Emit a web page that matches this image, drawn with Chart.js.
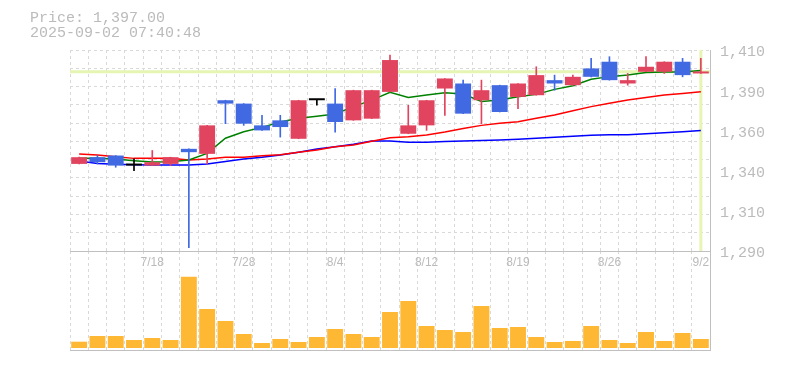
<!DOCTYPE html>
<html lang="ja">
<head>
<meta charset="UTF-8">
<title>株価チャート</title>
<script src="https://cdn.jsdelivr.net/npm/chart.js"></script>
<style>
  body { margin: 0; background: #fff; }
  #wrap { position: relative; width: 785px; height: 370px; overflow: hidden; }
  #info { position: absolute; left: 30px; top: 11px; font: 15px/15px 'Liberation Mono', monospace; color: #bbb; white-space: pre; z-index: 3; }
  #priceChart { position: absolute; left: 0; top: 0; z-index: 2; }
  #volChart { position: absolute; left: 0; top: 245px; z-index: 1; }
</style>
</head>
<body>
<div id="wrap">
  <div id="info">Price: 1,397.00
2025-09-02 07:40:48</div>
  <canvas id="priceChart" width="785" height="275"></canvas>
  <canvas id="volChart" width="785" height="115"></canvas>
</div>

<script>
  // 日付 (営業日)
  const dates = ['7/14', '7/15', '7/16', '7/17', '7/18', '7/22', '7/23', '7/24', '7/25', '7/28',
    '7/29', '7/30', '7/31', '8/1', '8/4', '8/5', '8/6', '8/7', '8/8', '8/12',
    '8/13', '8/14', '8/15', '8/18', '8/19', '8/20', '8/21', '8/22', '8/25', '8/26',
    '8/27', '8/28', '8/29', '9/1', '9/2'];
  const dateTicks = ['7/18', '7/28', '8/4', '8/12', '8/19', '8/26', '9/2'];

  const opens = [1342, 1346, 1347, 1341, 1341, 1342, 1351, 1348, 1380, 1378,
    1365, 1368, 1357, 1380, 1378, 1368, 1369, 1385, 1360, 1365,
    1387, 1390, 1380, 1389, 1382, 1383, 1392, 1389, 1399, 1403,
    1390, 1397, 1397, 1403, 1396];
  const highs = [1346, 1347, 1347, 1345, 1350, 1346, 1351, 1365, 1380, 1378,
    1371, 1371, 1380, 1380, 1387, 1386, 1386, 1407, 1377, 1380,
    1393, 1392, 1392, 1389, 1390, 1400, 1395, 1395, 1405, 1406,
    1396, 1406, 1403, 1405, 1405];
  const lows = [1342, 1342, 1340, 1338, 1341, 1341, 1292, 1342, 1366, 1365,
    1362, 1358, 1357, 1377, 1361, 1368, 1369, 1385, 1360, 1362,
    1371, 1372, 1366, 1373, 1375, 1383, 1386, 1389, 1394, 1392,
    1389, 1397, 1396, 1394, 1396];
  const closes = [1346, 1343, 1341, 1341, 1343, 1346, 1349, 1365, 1378, 1366,
    1362, 1364, 1380, 1380, 1367, 1386, 1386, 1404, 1365, 1380,
    1393, 1372, 1386, 1373, 1390, 1395, 1390, 1394, 1394, 1392,
    1392, 1400, 1403, 1395, 1397];

  // 移動平均 (5日 / 25日 / 75日)
  const ma5 = [1345.3, 1345.3, 1344.9, 1343.9, 1343.1, 1343.3, 1344.3, 1348.3, 1357.3, 1361.2,
    1363.8, 1367.0, 1369.2, 1370.4, 1371.8, 1376.2, 1380.1, 1384.7, 1381.7, 1383.1,
    1384.5, 1383.7, 1379.3, 1380.1, 1382.1, 1383.5, 1386.5, 1388.7, 1392.5, 1394.1,
    1395.1, 1396.5, 1396.9, 1396.9, 1397.7];
  const ma25 = [1347.9, 1347.3, 1346.3, 1345.3, 1345.3, 1345.3, 1344.3, 1344.9, 1345.9, 1345.9,
    1346.9, 1347.5, 1348.9, 1350.3, 1352.3, 1353.3, 1355.5, 1357.6, 1358.2, 1359.3,
    1361.0, 1363.2, 1365.0, 1366.2, 1367.2, 1369.2, 1371.2, 1373.7, 1376.2, 1378.2,
    1380.1, 1381.6, 1383.1, 1384.1, 1385.1];
  const ma75 = [1343.7, 1342.3, 1341.8, 1341.5, 1341.3, 1341.3, 1341.3, 1341.9, 1343.5, 1344.9,
    1345.9, 1347.3, 1349.0, 1350.9, 1352.3, 1353.7, 1355.7, 1355.7, 1355.0, 1355.0,
    1355.3, 1355.7, 1356.0, 1356.3, 1356.7, 1357.3, 1357.9, 1358.5, 1359.1, 1359.4,
    1359.4, 1360.0, 1360.6, 1361.2, 1362.0];

  // 出来高
  const volumes = [6300, 12000, 12000, 8000, 10000, 8000, 71300, 39000, 27000, 14000,
    5000, 9000, 6000, 11000, 19000, 14000, 11000, 36000, 47000, 22000,
    18000, 16000, 42000, 20000, 21000, 11000, 6000, 7000, 22000, 8000,
    5000, 16000, 7000, 15000, 9000];

  const lastPrice = 1397;
  const yTickValues = [1290, 1314, 1338, 1362, 1386, 1410];
  const yTickLabels = ['1,290', '1,310', '1,340', '1,360', '1,390', '1,410'];

  const gridColor = '#d9d9d9';
  const axisColor = '#c0c0c0';
  const textColor = '#bbb';
  const upColor = '#e0445e';
  const downColor = '#4169e1';
  const markColor = '#e6f5b4';

  var candleColors = [];
  for (var i = 0; i < dates.length; i++) {
    if (closes[i] > opens[i]) candleColors.push(upColor);
    else if (closes[i] < opens[i]) candleColors.push(downColor);
    else candleColors.push('#000');
  }

  // 現在値の線 (横) と最終日の線 (縦)
  const markerLines = {
    id: 'markerLines',
    beforeDatasetsDraw(chart) {
      const ctx = chart.ctx;
      const area = chart.chartArea;
      const y = chart.scales.y.getPixelForValue(lastPrice);
      const x = chart.scales.x.getPixelForValue(dates.length - 1);
      ctx.save();
      ctx.strokeStyle = markColor;
      ctx.lineWidth = 3;
      ctx.beginPath();
      ctx.moveTo(area.left, y);
      ctx.lineTo(area.right, y);
      ctx.moveTo(x, area.top);
      ctx.lineTo(x, area.bottom);
      ctx.stroke();
      ctx.restore();
    }
  };

  new Chart(document.getElementById('priceChart'), {
    type: 'bar',
    data: {
      labels: dates,
      datasets: [
        {
          label: 'body',
          data: dates.map((d, i) => [opens[i], closes[i]]),
          backgroundColor: candleColors,
          grouped: false,
          barPercentage: 0.87,
          categoryPercentage: 1,
          minBarLength: 2,
          yAxisID: 'y'
        },
        {
          label: 'wick',
          data: dates.map((d, i) => [lows[i], highs[i]]),
          backgroundColor: candleColors,
          grouped: false,
          barThickness: 1,
          yAxisID: 'y'
        },
        { type: 'line', label: 'MA5', data: ma5, borderColor: '#008000', borderWidth: 1.5, pointRadius: 0, tension: 0, yAxisID: 'y' },
        { type: 'line', label: 'MA25', data: ma25, borderColor: '#ff0000', borderWidth: 1.5, pointRadius: 0, tension: 0, yAxisID: 'y' },
        { type: 'line', label: 'MA75', data: ma75, borderColor: '#0000ff', borderWidth: 1.5, pointRadius: 0, tension: 0, yAxisID: 'y' }
      ]
    },
    options: {
      responsive: false,
      animation: false,
      layout: { padding: { top: 50, left: 70 } },
      plugins: { legend: { display: false }, tooltip: { enabled: false } },
      scales: {
        x: {
          offset: true,
          grid: { offset: true, color: gridColor, drawTicks: false },
          border: { color: axisColor, dash: [3, 3] },
          ticks: {
            autoSkip: false, maxRotation: 0, padding: 4, color: textColor,
            font: { family: 'Liberation Sans', size: 12 },
            callback: function (v, i) { return dateTicks.includes(dates[i]) ? dates[i] : ''; }
          },
          afterFit: function (s) { s.height = 24; }
        },
        yg: {
          position: 'left', min: 1290, max: 1410,
          grid: { color: gridColor, drawTicks: false },
          border: { display: false, dash: [3, 3] },
          ticks: { display: false },
          afterBuildTicks: function (s) {
            var t = [];
            for (var k = 0; k <= 11; k++) t.push({ value: 1290 + 120 * k / 11 });
            s.ticks = t;
          },
          afterFit: function (s) { s.width = 0; }
        },
        y: {
          position: 'right', min: 1290, max: 1410,
          grid: { display: false, drawTicks: false },
          border: { color: axisColor },
          ticks: {
            padding: 10, color: textColor, labelOffset: 2.5,
            font: { family: 'Liberation Mono', size: 15 },
            callback: function (v, i) { return yTickLabels[i]; }
          },
          afterBuildTicks: function (s) { s.ticks = yTickValues.map(v => ({ value: v })); },
          afterFit: function (s) { s.width = 75; }
        }
      }
    },
    plugins: [markerLines]
  });

  new Chart(document.getElementById('volChart'), {
    type: 'bar',
    data: {
      labels: dates,
      datasets: [{
        label: '出来高',
        data: volumes,
        backgroundColor: '#ffb833',
        barPercentage: 0.87,
        categoryPercentage: 1
      }]
    },
    options: {
      responsive: false,
      animation: false,
      layout: { padding: { top: 6, left: 70 } },
      plugins: { legend: { display: false }, tooltip: { enabled: false } },
      scales: {
        x: {
          offset: true,
          grid: { offset: true, color: gridColor, drawTicks: false },
          border: { color: axisColor, dash: [3, 3] },
          ticks: { display: false },
          afterFit: function (s) { s.height = 10; }
        },
        y: {
          position: 'right', min: -2000, max: 97000,
          grid: { display: false, drawTicks: false },
          border: { color: axisColor },
          ticks: { display: false },
          afterFit: function (s) { s.width = 75; }
        }
      }
    }
  });
</script>
</body>
</html>
